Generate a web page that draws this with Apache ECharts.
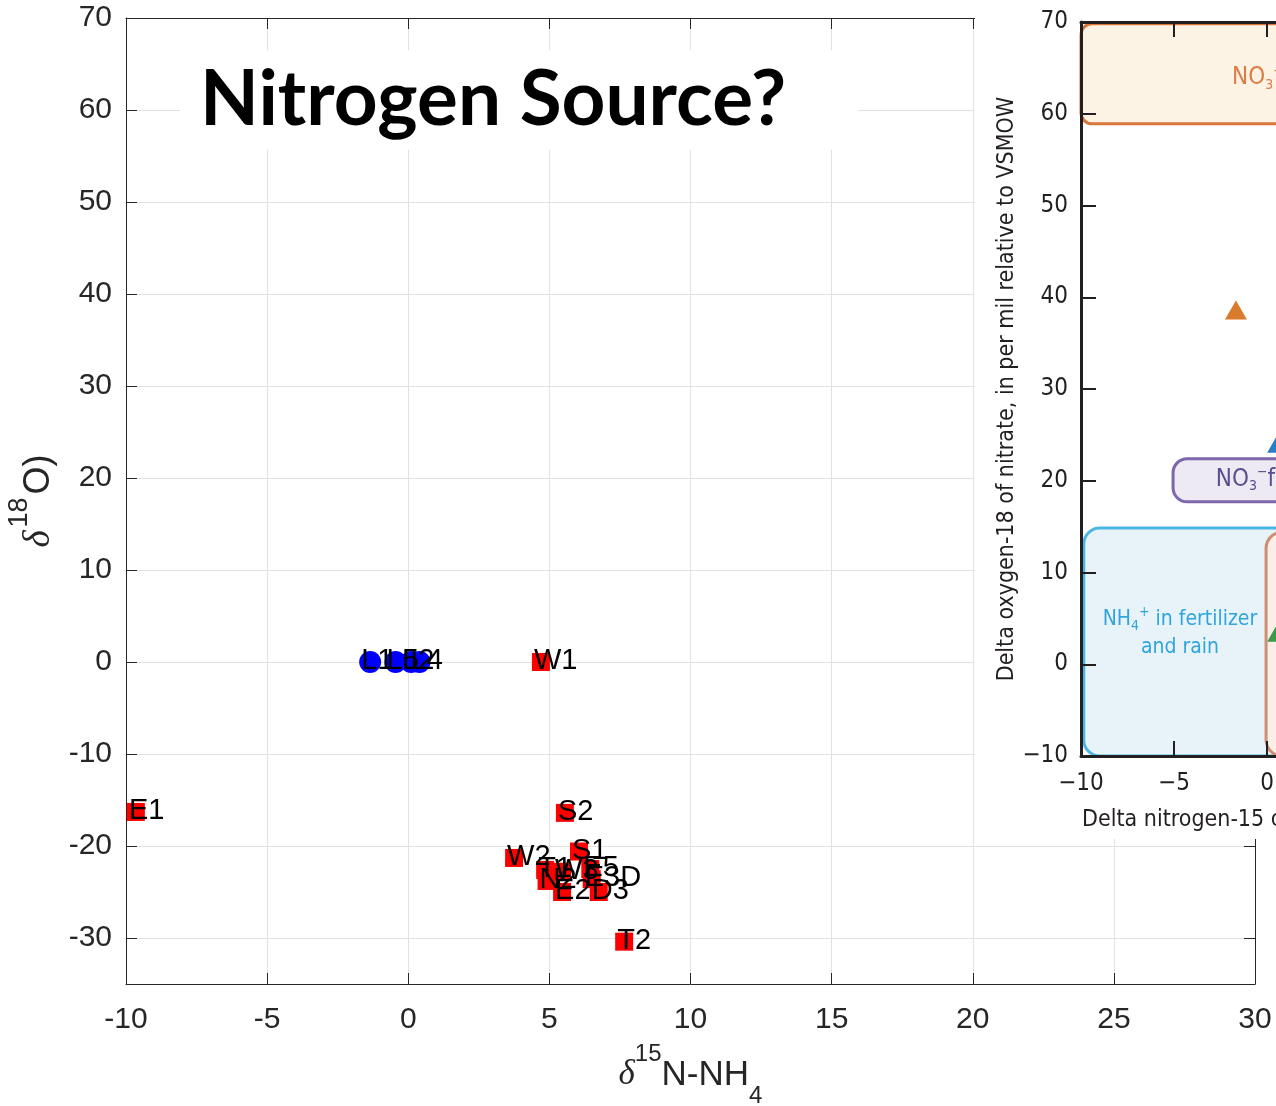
<!DOCTYPE html>
<html>
<head>
<meta charset="utf-8">
<script src="https://cdn.jsdelivr.net/npm/echarts@6/dist/echarts.min.js"></script>
<style>
  html, body { margin: 0; padding: 0; background: #fff; }
  #chart { width: 1276px; height: 1106px; }
</style>
</head>
<body>
<div id="chart"></div>
<script>
// Ammonium samples (blue circles): δ15N-NH4 against δ18O
const ammoniumNames = ['L1', 'L5', 'L2', 'L4'];
const ammoniumX = [-1.35, -0.45, 0.1, 0.4];
const ammoniumY = [0, 0, 0, 0];

// Site samples (red squares)
const siteNames = ['E1', 'W1', 'S2', 'W2', 'S1', 'T1', 'W3', 'E5', 'E3D', 'N2', 'E2', 'D3', 'T2'];
const siteX = [-9.65, 4.7, 5.55, 3.75, 6.05, 4.85, 5.45, 6.45, 6.5, 4.9, 5.45, 6.75, 7.65];
const siteY = [-16.3, 0, -16.4, -21.3, -20.6, -22.6, -22.8, -22.5, -23.6, -23.8, -25.0, -25.0, -30.4];

// Main axes tick values
const xTicks = [-10, -5, 0, 5, 10, 15, 20, 25, 30];
const yTicks = [-30, -20, -10, 0, 10, 20, 30, 40, 50, 60, 70];

// Source-field reference panel (delta N-15 vs delta O-18 of nitrate)
const panelXTicks = [-10, -5, 0];
const sourceNames = ['NO3 in precipitation', 'NH4 in fertilizer and rain', 'NO3 fertilizer', 'Manure and septic'];
const sourceX0 = [-10, -9.85, -5.05, -0.05];
const sourceX1 = [40, 2, 12, 12];
const sourceY0 = [58.9, -10, 17.7, -10];
const sourceY1 = [69.8, 14.85, 22.4, 14.4];
const sourceLabelX = [-1.88, -4.68, -2.75];
const sourceLabelY = [63.9, 3.4, 20.1];
const sourceLabelText = [
  '{t|NO}{sub|3}{sup|\u2212}{t| in precipitation}',
  '{t|NH}{sub|4}{sup|+}{t| in fertilizer}\n{t|and rain}',
  '{t|NO}{sub|3}{sup|\u2212}{t|fertilizer}'
];
const sampleX = [-1.67, 0.6, 0.6];
const sampleY = [38.6, 24.1, 3.5];

// Styling
const SANS = "'Liberation Sans', Arial, Helvetica, sans-serif";
const NARROW = "'Liberation Sans Narrow', 'Arial Narrow', 'DejaVu Sans Condensed', sans-serif";
const INK = '#262626';
const PANEL_INK = '#231f20';
const sourceStyle = [
  { fill: '#fdf3e5', stroke: '#d9763a', r: 11 },
  { fill: '#e8f3f9', stroke: '#4ab7e3', r: 16 },
  { fill: '#edeaf4', stroke: '#7d66a9', r: 14 },
  { fill: '#f9eee8', stroke: '#cf8e72', r: 16 }
];
const sourceLabelColor = ['#dc7d45', '#2fa5dc', '#5c4e90'];
const sourceLabelSize = [24, 21, 24];
const sampleColor = ['#d97b2a', '#2a7fc4', '#3a9a4a'];

const mainGrid = { left: 126, top: 18, width: 1129, height: 966 };
// the panel runs past the right edge of the page; only its left part is on screen
const panelXMax = 0.55;
const panelGrid = { left: 1081, top: 22, width: 18.6 * (panelXMax + 10), height: 734 };

const mainAxisLine = { show: true, onZero: false, lineStyle: { color: INK, width: 1 } };
const mainTick = { show: true, inside: true, length: 11, lineStyle: { color: INK, width: 1 } };
const panelAxisLine = { show: true, onZero: false, lineStyle: { color: PANEL_INK, width: 3 } };
const panelTick = { show: true, inside: true, length: 15, lineStyle: { color: PANEL_INK, width: 2 } };

const richXName = {
  d: { fontSize: 35, fontStyle: 'italic', fontFamily: "'Liberation Serif', serif", color: INK, lineHeight: 66 },
  m: { fontSize: 35, fontFamily: SANS, color: INK, lineHeight: 66 },
  sup: { fontSize: 24, fontFamily: SANS, color: INK, lineHeight: 24, verticalAlign: 'top' },
  sub: { fontSize: 24, fontFamily: SANS, color: INK, lineHeight: 24, verticalAlign: 'bottom' }
};
const richYName = {
  d: { fontSize: 37, fontStyle: 'italic', fontFamily: "'Liberation Serif', serif", color: INK, lineHeight: 66, padding: [0, 3, 0, 0] },
  m: { fontSize: 36, fontFamily: SANS, color: INK, lineHeight: 66, padding: [0, 0, 0, 3] },
  sup: { fontSize: 27, fontFamily: SANS, color: INK, lineHeight: 26, verticalAlign: 'top' }
};

const minus = v => String(v).replace('-', '\u2212');

const chart = echarts.init(document.getElementById('chart'), null, { renderer: 'canvas' });

chart.setOption({
  animation: false,
  backgroundColor: '#ffffff',
  grid: [
    Object.assign({ containLabel: false, outerBoundsMode: 'none' }, mainGrid),
    Object.assign({ containLabel: false, outerBoundsMode: 'none' }, panelGrid)
  ],
  xAxis: [
    {
      gridIndex: 0, type: 'value', min: -10, max: 30, interval: 5, position: 'bottom',
      axisLine: mainAxisLine, axisTick: mainTick,
      axisLabel: { fontSize: 30, color: INK, fontFamily: SANS, margin: 21 },
      splitLine: { show: true, lineStyle: { color: '#e2e2e2', width: 1 } },
      name: '{d|\u03b4}{sup|15}{m|N-NH}{sub|4}',
      nameLocation: 'middle', nameGap: 58,
      nameTextStyle: { rich: richXName }
    },
    {
      gridIndex: 0, type: 'value', min: -10, max: 30, interval: 5, position: 'top',
      axisLine: mainAxisLine, axisTick: mainTick,
      axisLabel: { show: false }, splitLine: { show: false }
    },
    {
      gridIndex: 1, type: 'value', min: -10, max: panelXMax, position: 'bottom', z: 6,
      axisLine: panelAxisLine,
      axisTick: Object.assign({ customValues: panelXTicks }, panelTick),
      axisLabel: { fontSize: 24, color: PANEL_INK, fontFamily: NARROW, margin: 16, formatter: minus, customValues: panelXTicks },
      splitLine: { show: false }
    },
    {
      gridIndex: 1, type: 'value', min: -10, max: panelXMax, position: 'top', z: 6,
      axisLine: panelAxisLine,
      axisTick: Object.assign({ customValues: panelXTicks }, panelTick),
      axisLabel: { show: false }, splitLine: { show: false }
    }
  ],
  yAxis: [
    {
      gridIndex: 0, type: 'value', min: -35, max: 70, position: 'left',
      axisLine: mainAxisLine,
      axisTick: Object.assign({ customValues: yTicks }, mainTick),
      axisLabel: { fontSize: 30, color: INK, fontFamily: SANS, margin: 14, customValues: yTicks },
      splitLine: { show: true, lineStyle: { color: '#e2e2e2', width: 1 } },
      name: '{d|\u03b4}{sup|18}{m|O)}',
      nameLocation: 'middle', nameGap: 54,
      nameTextStyle: { rich: richYName }
    },
    {
      gridIndex: 0, type: 'value', min: -35, max: 70, position: 'right',
      axisLine: mainAxisLine,
      axisTick: Object.assign({ customValues: yTicks }, mainTick),
      axisLabel: { show: false }, splitLine: { show: false }
    },
    {
      gridIndex: 1, type: 'value', min: -10, max: 70, interval: 10, position: 'left', z: 6,
      axisLine: panelAxisLine, axisTick: panelTick,
      axisLabel: { fontSize: 24, color: PANEL_INK, fontFamily: NARROW, margin: 13, formatter: minus },
      splitLine: { show: false },
      name: 'Delta oxygen-18 of nitrate, in per mil relative to VSMOW',
      nameLocation: 'middle', nameGap: 50,
      nameTextStyle: { fontSize: 23, color: PANEL_INK, fontFamily: NARROW }
    }
  ],
  graphic: [
    // opaque backing of the reference panel
    { type: 'rect', z: 3, shape: { x: 975, y: 15, width: 301, height: 824 }, style: { fill: '#ffffff' } },
    // title plate
    { type: 'rect', z: 3, shape: { x: 180, y: 50, width: 678, height: 100 }, style: { fill: '#ffffff' } },
    {
      type: 'text', z: 4, x: 200, y: 100,
      style: { text: 'Nitrogen Source?', fontSize: 76.5, fontWeight: 'bold', fontFamily: "Lato, 'Open Sans', sans-serif",
               fill: '#000000', align: 'left', verticalAlign: 'middle' }
    },
    {
      type: 'text', z: 7, x: 1082, y: 820,
      style: { text: 'Delta nitrogen-15 of nitrate, in per mil relative to air', fontSize: 23, fontFamily: NARROW,
               fill: PANEL_INK, align: 'left', verticalAlign: 'middle' }
    }
  ],
  series: [
    {
      name: 'sites', type: 'scatter', xAxisIndex: 0, yAxisIndex: 0,
      symbol: 'rect', symbolSize: 18,
      itemStyle: { color: '#ff0000', opacity: 1 },
      data: siteX.map((x, i) => [x, siteY[i], siteNames[i]]),
      label: {
        show: true, position: [2, 8], align: 'left', verticalAlign: 'middle',
        formatter: p => p.value[2], fontSize: 29, fontFamily: SANS, color: '#000000'
      },
      labelLayout: { hideOverlap: false }
    },
    {
      name: 'ammonium', type: 'scatter', xAxisIndex: 0, yAxisIndex: 0,
      symbol: 'circle', symbolSize: 22,
      itemStyle: { color: '#0000ff', opacity: 1 },
      data: ammoniumX.map((x, i) => [x, ammoniumY[i], ammoniumNames[i]]),
      label: {
        show: true, position: [2, 10], align: 'left', verticalAlign: 'middle',
        formatter: p => p.value[2], fontSize: 29, fontFamily: SANS, color: '#000000'
      },
      labelLayout: { hideOverlap: false }
    },
    {
      name: 'source fields', type: 'custom', xAxisIndex: 2, yAxisIndex: 2, z: 4, clip: false,
      data: sourceNames.map((n, i) => [sourceX0[i], sourceY0[i], sourceX1[i], sourceY1[i], i]),
      renderItem: (params, api) => {
        const tl = api.coord([api.value(0), api.value(3)]);
        const br = api.coord([api.value(2), api.value(1)]);
        const s = sourceStyle[api.value(4)];
        return {
          type: 'rect',
          shape: { x: tl[0], y: tl[1], width: br[0] - tl[0], height: br[1] - tl[1], r: s.r },
          style: { fill: s.fill, stroke: s.stroke, lineWidth: 3 }
        };
      }
    },
    {
      name: 'source labels', type: 'custom', xAxisIndex: 2, yAxisIndex: 2, z: 5, clip: false,
      data: sourceLabelX.map((x, i) => [x, sourceLabelY[i], i]),
      renderItem: (params, api) => {
        const i = api.value(2);
        const p = api.coord([api.value(0), api.value(1)]);
        const c = sourceLabelColor[i];
        const fs = sourceLabelSize[i];
        return {
          type: 'text', x: p[0], y: p[1],
          style: {
            text: sourceLabelText[i],
            align: i === 1 ? 'center' : 'left', verticalAlign: 'middle',
            rich: {
              t: { fontSize: fs, fontFamily: NARROW, fill: c, lineHeight: 28 },
              sub: { fontSize: 14, fontFamily: NARROW, fill: c, lineHeight: 14, verticalAlign: 'bottom' },
              sup: { fontSize: 14, fontFamily: NARROW, fill: c, lineHeight: 14, verticalAlign: 'top' }
            }
          }
        };
      }
    },
    {
      name: 'reference samples', type: 'scatter', xAxisIndex: 2, yAxisIndex: 2, z: 5, clip: false,
      symbol: 'triangle', symbolSize: [22, 19],
      data: sampleX.map((x, i) => ({ value: [x, sampleY[i]], itemStyle: { color: sampleColor[i], opacity: 1 } }))
    }
  ]
});
</script>
</body>
</html>
